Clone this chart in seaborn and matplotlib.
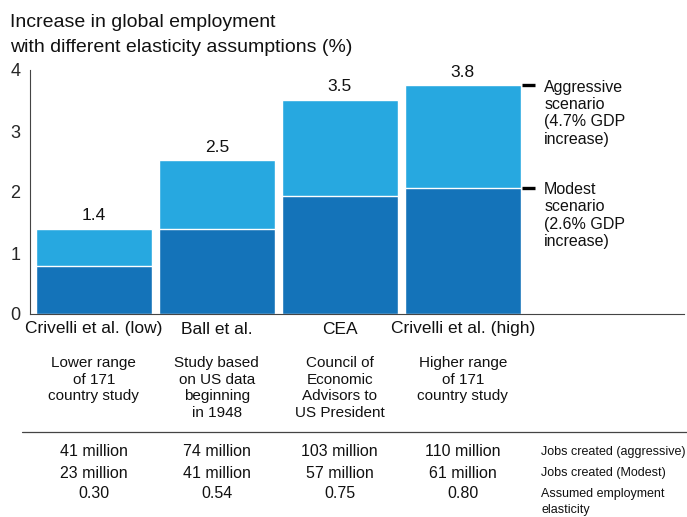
import numpy as np
import pandas as pd
import matplotlib
matplotlib.use('Agg')
import matplotlib.pyplot as plt
import matplotlib.transforms as mtransforms
from matplotlib.lines import Line2D
import seaborn as sns

# --- data ---
studies = ['Crivelli et al. (low)', 'Ball et al.', 'CEA', 'Crivelli et al. (high)']
descriptions = ['Lower range\nof 171\ncountry study',
                'Study based\non US data\nbeginning\nin 1948',
                'Council of\nEconomic\nAdvisors to\nUS President',
                'Higher range\nof 171\ncountry study']
aggressive = [1.40, 2.52, 3.51, 3.75]
modest = [0.78, 1.39, 1.94, 2.07]
total_labels = ['1.4', '2.5', '3.5', '3.8']
jobs_aggressive = ['41 million', '74 million', '103 million', '110 million']
jobs_modest = ['23 million', '41 million', '57 million', '61 million']
elasticity = ['0.30', '0.54', '0.75', '0.80']
row_labels = ['Jobs created (aggressive)', 'Jobs created (Modest)',
              'Assumed employment\nelasticity']
yticks = [0, 1, 2, 3, 4]

LIGHT = '#27a8e0'
DARK = '#1473b9'
W, H = 687, 517

sns.set_style('white')
plt.rcParams['font.family'] = ['Liberation Sans', 'DejaVu Sans']
plt.rcParams['text.color'] = '#111111'

df = pd.DataFrame({'study': studies, 'aggressive': aggressive, 'modest': modest})

fig = plt.figure(figsize=(W / 100, H / 100), dpi=100)
ax = fig.add_axes([30 / W, 203 / H, 654 / W, 244 / H])

sns.barplot(data=df, x='study', y='aggressive', color=LIGHT, width=0.94,
            edgecolor='white', linewidth=1, saturation=1, ax=ax)
light_bars = ax.containers[0]
sns.barplot(data=df, x='study', y='modest', color=DARK, width=0.94,
            edgecolor='white', linewidth=1, saturation=1, ax=ax)

ax.bar_label(light_bars, labels=total_labels, padding=4, fontsize=12.5)

ax.set_xlim(-0.52, 4.80)
ax.set_ylim(0, 4)
ax.set_yticks(yticks)
ax.tick_params(axis='y', length=4, width=0.8, pad=3, labelsize=13, color='#333333')
ax.tick_params(axis='x', length=0, labelbottom=False)
ax.set_xlabel('')
ax.set_ylabel('')
for s in ['top', 'right']:
    ax.spines[s].set_visible(False)
for s in ['left', 'bottom']:
    ax.spines[s].set_color('#444444')
    ax.spines[s].set_linewidth(0.8)

# scenario markers and notes next to the last bar
edge = len(studies) - 1 + 0.47
for val, note in [(aggressive[-1], 'Aggressive\nscenario\n(4.7% GDP\nincrease)'),
                  (modest[-1], 'Modest\nscenario\n(2.6% GDP\nincrease)')]:
    ax.plot([edge + 0.015, edge + 0.12], [val, val], color='black', lw=2.4,
            solid_capstyle='butt', clip_on=False)
    ax.annotate(note, xy=(edge, val), xytext=(17, 4), textcoords='offset points',
                ha='left', va='top', fontsize=11.5, linespacing=1.19)

# title
fig.text(10 / W, 1 - 27 / H, 'Increase in global employment', fontsize=14, va='baseline')
fig.text(10 / W, 1 - 52 / H, 'with different elasticity assumptions (%)', fontsize=14,
         va='baseline')

# category labels, descriptions and table below the axes
tr = mtransforms.blended_transform_factory(ax.transData, fig.transFigure)


def fy(px):
    return 1 - px / H


for i, name in enumerate(studies):
    ax.text(i, fy(329), name, transform=tr, ha='center', va='center', fontsize=12.5)
    ax.text(i, fy(356), descriptions[i], transform=tr, ha='center', va='top',
            fontsize=11, linespacing=1.23)
    ax.text(i, fy(452), jobs_aggressive[i], transform=tr, ha='center', va='center', fontsize=11.5)
    ax.text(i, fy(473), jobs_modest[i], transform=tr, ha='center', va='center', fontsize=11.5)
    ax.text(i, fy(494), elasticity[i], transform=tr, ha='center', va='center', fontsize=11.5)

fig.text(541 / W, fy(452), row_labels[0], va='center', fontsize=9)
fig.text(541 / W, fy(473), row_labels[1], va='center', fontsize=9)
fig.text(541 / W, fy(488), row_labels[2], va='top', fontsize=9, linespacing=1.45)

fig.add_artist(Line2D([22 / W, 1], [fy(432), fy(432)], transform=fig.transFigure,
                      color='#444444', lw=0.9))

fig.savefig('out.png', dpi=100, facecolor='white')
plt.close(fig)
